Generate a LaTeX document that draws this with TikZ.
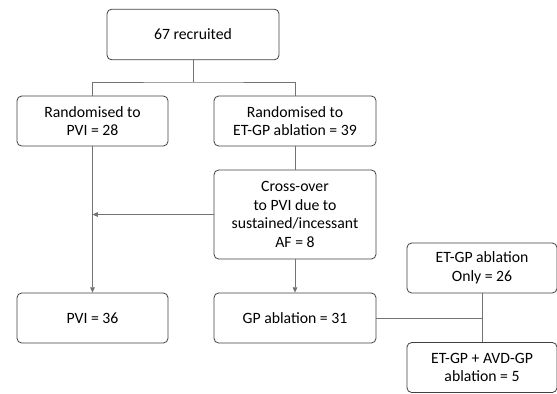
\documentclass[tikz,border=0pt]{standalone}
\usepackage{fontspec}
\setmainfont{Carlito}
\usepackage{tikz}
\usetikzlibrary{shapes,positioning,arrows.meta}
\tikzset{box/.style={rectangle,rounded corners=3.5pt,draw=black!75,line width=0.6pt,align=center,inner sep=0pt,font=\fontsize{11.8}{14}\selectfont},
  link/.style={draw=black!55,line width=0.6pt}}

\begin{document}
\begin{tikzpicture}[x=0.75pt,y=-0.75pt,>={Triangle[length=4pt,width=3.5pt]}]
        \useasboundingbox (0,0) rectangle (557,393);
        \node[box,minimum width=129pt,minimum height=38pt] (rec) at (193,34.5) {67 recruited};
        \node[box,minimum width=113.25pt,minimum height=37.5pt] (rpvi) at (92.5,121) {Randomised to\\PVI = 28};
        \node[box,minimum width=121.5pt,minimum height=37.5pt] (rgp) at (295,121) {Randomised to\\ET-GP ablation = 39};
        \node[box,minimum width=121.5pt,minimum height=66.75pt] (cross) at (295,214.5) {Cross-over\\to PVI due to\\sustained/incessant\\AF = 8};
        \node[box,minimum width=113.25pt,minimum height=37.5pt] (pvi) at (92.5,318) {PVI = 36};
        \node[box,minimum width=121.5pt,minimum height=37.5pt] (gp) at (295,318) {GP ablation = 31};
        \node[box,minimum width=112.5pt,minimum height=37.5pt] (only) at (482,268) {ET-GP ablation\\Only = 26};
        \node[box,minimum width=112.5pt,minimum height=37.5pt] (both) at (482,367.5) {ET-GP + AVD-GP\\ablation = 5};
        \coordinate (split) at (193,82);

        \draw [link] (rec) -- (split);
        \draw [link] (rpvi) |- (split) -| (rgp);
        \draw [link,->] (rpvi) -- (pvi);
        \draw [link] (rgp) -- (cross);
        \draw [link,->] (cross.west) -- (rpvi.south |- cross.west);
        \draw [link,->] (cross) -- (gp);
        \draw [link] (gp.east) -- (only.south |- gp.east);
        \draw [link] (only) -- (both);
    \end{tikzpicture}
\end{document}
